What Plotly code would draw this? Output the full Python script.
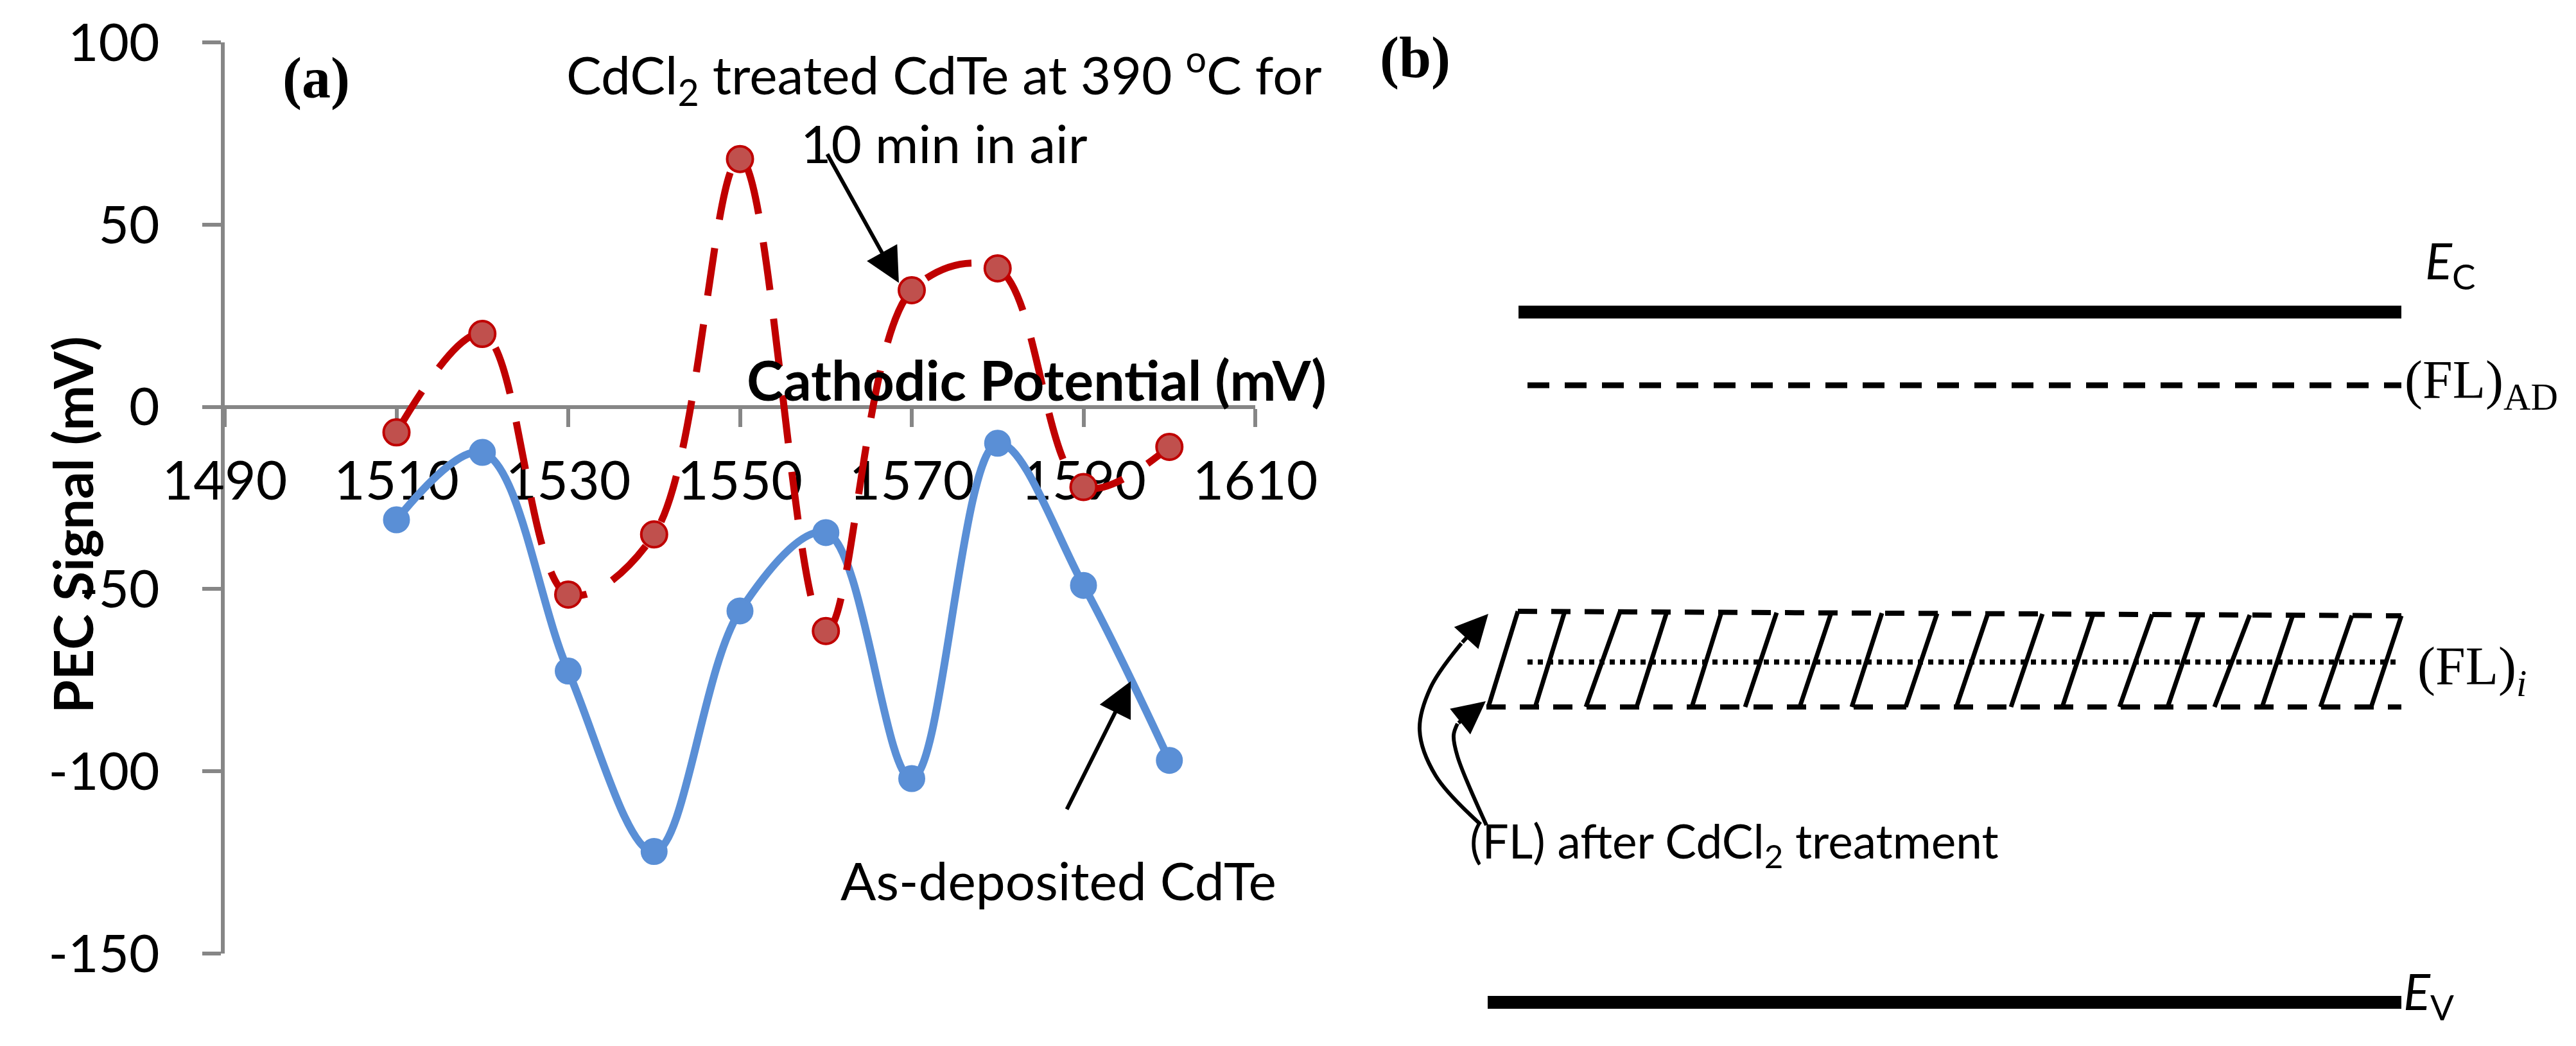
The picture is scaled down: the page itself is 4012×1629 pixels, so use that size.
import plotly.graph_objects as go

W, H = 4012, 1629

# ---------------- Panel (a) data ----------------
potential_mV = [1510, 1520, 1530, 1540, 1550, 1560, 1570, 1580, 1590, 1600]
as_deposited = [-31, -12.5, -72.5, -122, -56, -34.5, -102, -10, -49, -97]
cdcl2_treated = [-7, 20, -51.5, -35, 68, -61.5, 32, 38, -22, -11]

x_ticks = [1490, 1510, 1530, 1550, 1570, 1590, 1610]
x_tick_text = ["1490", "1510", "1530", "1550", "1570", "1590", "1610"]
y_ticks = [100, 50, 0, -50, -100, -150]
y_tick_text = ["100", "50", "0", "-50", "-100", "-150"]

# ---------------- Panel (b) schematic data (diagram units) ----------------
level_names = ["Ec", "FL_AD", "band_top", "FL_i", "band_bottom", "Ev"]
level_x_start = [2357, 2371, 2356, 2371, 2307, 2309]
level_x_end = [3732, 3732, 3732, 3726, 3732, 3732]
level_y_start = [478, 592, 944, 1023, 1093, 1553]
level_y_end = [478, 592, 951, 1023, 1093, 1553]

slant_bottom_x = [2310, 2383, 2462, 2541, 2627, 2710, 2795, 2876, 2960,
                  3039, 3124, 3204, 3293, 3368, 3441, 3515, 3606, 3685]
slant_top_x = [2356, 2429, 2515, 2588, 2673, 2759, 2844, 2923, 3009,
               3088, 3173, 3252, 3344, 3417, 3496, 3563, 3655, 3732]

outer_curve_x = [2298, 2228, 2203, 2220, 2268]
outer_curve_y = [1276, 1200, 1129, 1063, 994]
inner_curve_x = [2307, 2262, 2256, 2262]
inner_curve_y = [1277, 1170, 1137, 1119]

SANS = "Lato, Liberation Sans, Arial, sans-serif"
SERIF = "Liberation Serif, Times New Roman, serif"
BLUE = "#5A8FD6"
RED = "#C00000"
RED_FILL = "#C0504D"
GREY = "#868686"


def px(xp):
    return xp / W


def py(yp):
    return 1 - yp / H


fig = go.Figure()

# Panel (a) series
fig.add_trace(go.Scatter(
    x=potential_mV, y=as_deposited, mode="lines+markers",
    line=dict(color=BLUE, width=12, shape="spline", smoothing=1),
    marker=dict(color=BLUE, size=40, line=dict(color=BLUE, width=2)),
    xaxis="x", yaxis="y", showlegend=False, cliponaxis=False))
fig.add_trace(go.Scatter(
    x=potential_mV, y=cdcl2_treated, mode="lines+markers",
    line=dict(color=RED, width=11, shape="spline", smoothing=1, dash="75px,45px"),
    marker=dict(color=RED_FILL, size=40, line=dict(color=RED, width=4)),
    xaxis="x", yaxis="y", showlegend=False, cliponaxis=False))

# Panel (b) levels
level_style = {
    "Ec": dict(color="black", width=20),
    "FL_AD": dict(color="black", width=9, dash="34px,24px"),
    "band_top": dict(color="black", width=8, dash="30px,22px"),
    "FL_i": dict(color="black", width=8, dash="8px,8px"),
    "band_bottom": dict(color="black", width=8, dash="30px,22px"),
    "Ev": dict(color="black", width=20),
}
for name, xs, xe, ys, ye in zip(level_names, level_x_start, level_x_end,
                                level_y_start, level_y_end):
    fig.add_trace(go.Scatter(x=[xs, xe], y=[ys, ye], mode="lines",
                             line=level_style[name], xaxis="x2", yaxis="y2",
                             showlegend=False))

# slanted hatch lines inside the band
top_y0, top_y1 = level_y_start[2], level_y_end[2]
top_x0, top_x1 = level_x_start[2], level_x_end[2]
bot_y = level_y_start[4]
sx, sy = [], []
for xb, xt in zip(slant_bottom_x, slant_top_x):
    yt = top_y0 + (top_y1 - top_y0) * (xt - top_x0) / (top_x1 - top_x0)
    sx += [xb, xt, None]
    sy += [bot_y, yt, None]
fig.add_trace(go.Scatter(x=sx, y=sy, mode="lines",
                         line=dict(color="black", width=7),
                         xaxis="x2", yaxis="y2", showlegend=False))

# curved arrows
for cx, cy in [(outer_curve_x, outer_curve_y), (inner_curve_x, inner_curve_y)]:
    fig.add_trace(go.Scatter(x=cx, y=cy, mode="lines",
                             line=dict(color="black", width=6, shape="spline"),
                             xaxis="x2", yaxis="y2", showlegend=False))

annotations = []

# arrow heads for curved arrows (panel b)
annotations.append(dict(x=2310, y=948, ax=outer_curve_x[-1], ay=outer_curve_y[-1],
                        xref="x2", yref="y2", axref="x2", ayref="y2", text="",
                        showarrow=True, arrowhead=2, arrowsize=1.7, arrowwidth=6,
                        arrowcolor="black", standoff=0))
annotations.append(dict(x=2306, y=1084, ax=inner_curve_x[-1], ay=inner_curve_y[-1],
                        xref="x2", yref="y2", axref="x2", ayref="y2", text="",
                        showarrow=True, arrowhead=2, arrowsize=1.7, arrowwidth=6,
                        arrowcolor="black", standoff=0))

# straight arrows in panel (a)
annotations.append(dict(x=1568.5, y=34.0, ax=1560.1, ay=69.6,
                        xref="x", yref="y", axref="x", ayref="y", text="",
                        showarrow=True, arrowhead=2, arrowsize=1.8, arrowwidth=6,
                        arrowcolor="black", standoff=0))
annotations.append(dict(x=1595.5, y=-75.3, ax=1588.0, ay=-110.7,
                        xref="x", yref="y", axref="x", ayref="y", text="",
                        showarrow=True, arrowhead=2, arrowsize=1.8, arrowwidth=6,
                        arrowcolor="black", standoff=0))


def label(text, xp, yp, size, family=SANS, xanchor="center", yanchor="middle",
          textangle=0, align="center"):
    annotations.append(dict(text=text, x=px(xp), y=py(yp), xref="paper", yref="paper",
                            showarrow=False, xanchor=xanchor, yanchor=yanchor,
                            textangle=textangle, align=align, borderpad=0,
                            font=dict(family=family, size=size, color="black")))


# panel (a) texts
label("<b>(a)</b>", 484, 114, 90, family=SERIF)
label("CdCl<sub>2</sub> treated CdTe at 390 <sup>o</sup>C for<br>10 min in air",
      1462, 156, 82)
label("<b>Cathodic Potential (mV)</b>", 1606, 582, 86)
label("As-deposited CdTe", 1640, 1362, 82)
label("<b>PEC Signal (mV)</b>", 104, 810, 84, textangle=-90)

# panel (b) texts
label("<b>(b)</b>", 2196, 82, 90, family=SERIF)
label("<i>E</i><sub>C</sub>", 3768, 402, 78, xanchor="left")
label("(FL)<sub>AD</sub>", 3736, 590, 84, family=SERIF, xanchor="left")
label("(FL)<sub><i>i</i></sub>", 3756, 1036, 84, family=SERIF, xanchor="left")
label("<i>E</i><sub>V</sub>", 3734, 1540, 78, xanchor="left")
label("(FL) after CdCl<sub>2</sub> treatment", 2280, 1306, 73, xanchor="left")

top_px, bottom_px, zero_px = 58, 1477, 626
y_dom = [1 - bottom_px / H, 1 - top_px / H]
zero_pos = 1 - zero_px / H

fig.update_layout(
    width=W, height=H,
    margin=dict(l=0, r=0, t=0, b=0, autoexpand=False),
    paper_bgcolor="white", plot_bgcolor="white",
    font=dict(family=SANS, color="black"),
    showlegend=False,
    annotations=annotations,
    xaxis=dict(domain=[342 / W, 1947 / W], range=[1490, 1610],
               tickvals=x_ticks, ticktext=x_tick_text,
               anchor="free", position=zero_pos, automargin=False,
               showline=True, linecolor=GREY, linewidth=6,
               ticks="outside", ticklen=28, tickwidth=6, tickcolor=GREY,
               ticklabelstandoff=12, ticklabeloverflow="allow",
               tickfont=dict(family=SANS, size=84, color="black"),
               showgrid=False, zeroline=False, layer="below traces", fixedrange=True),
    yaxis=dict(domain=y_dom, range=[-150, 100],
               tickvals=y_ticks, ticktext=y_tick_text,
               anchor="x", automargin=False,
               showline=True, linecolor=GREY, linewidth=6,
               ticks="outside", ticklen=29, tickwidth=6, tickcolor=GREY,
               ticklabelstandoff=50, ticklabeloverflow="allow",
               tickfont=dict(family=SANS, size=82, color="black"),
               showgrid=False, zeroline=False, layer="below traces", fixedrange=True),
    xaxis2=dict(domain=[2100 / W, 1], range=[2100, 4012], visible=False,
                anchor="y2", fixedrange=True, automargin=False),
    yaxis2=dict(domain=[0, 1], range=[H, 0], visible=False,
                anchor="x2", fixedrange=True, automargin=False),
)

fig.write_html("out.html")
